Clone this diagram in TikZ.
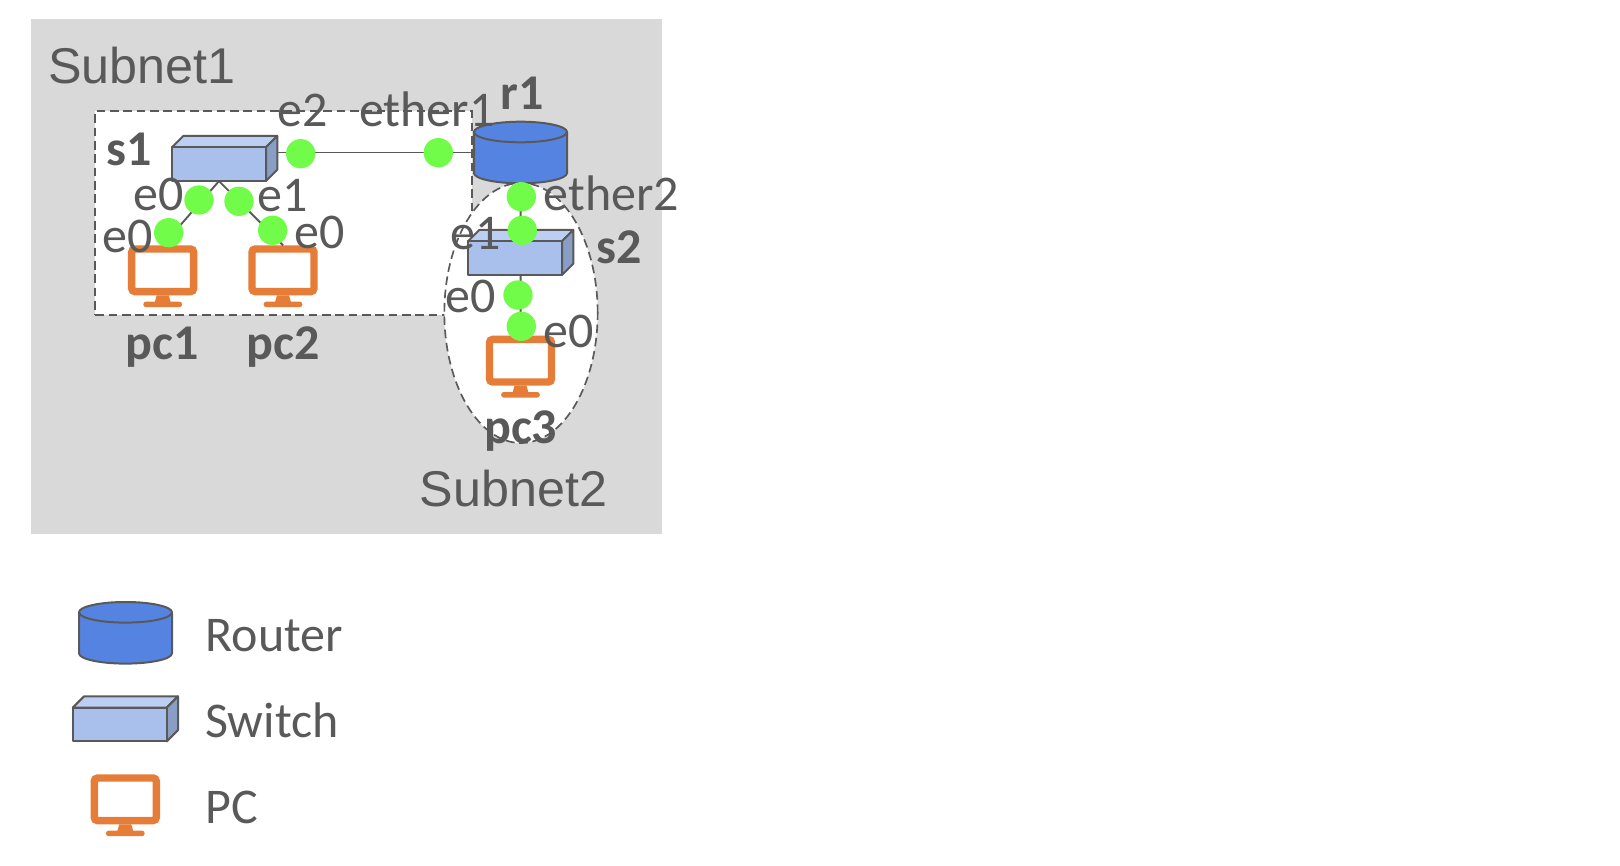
\documentclass[tikz,border=0pt]{standalone}
\usepackage{fontspec}
\usetikzlibrary{shapes.geometric}
\setmainfont{Carlito}
\newfontfamily\arialfont{Liberation Sans}
\definecolor{ink}{HTML}{595959}
\definecolor{panel}{HTML}{D9D9D9}
\definecolor{routerblue}{HTML}{5583E2}
\definecolor{swfront}{HTML}{A9C0EC}
\definecolor{swtop}{HTML}{BCCFF2}
\definecolor{swside}{HTML}{8A9DC4}
\definecolor{pcorange}{HTML}{E57C37}
\definecolor{dotgreen}{HTML}{72FC4A}
\tikzset{
  x=0.75pt,y=-0.75pt,
  outline/.style={draw=ink,line width=1.5pt,line join=round},
  link/.style={draw=ink,line width=1.4pt},
  zone/.style={draw=ink,line width=1.25pt,dash pattern=on 6.5pt off 3.5pt,fill=white},
  port/.style={circle,fill=dotgreen,inner sep=0pt,minimum size=22pt},
  tag/.style={anchor=base west,inner sep=0pt,text=ink,font=\fontsize{37.5}{45}\selectfont},
  devname/.style={anchor=base,inner sep=0pt,text=ink,font=\fontsize{37.5}{45}\selectfont\bfseries},
  devnamew/.style={devname,anchor=base west},
  legendtext/.style={anchor=base west,inner sep=0pt,text=ink,font=\fontsize{37.5}{45}\selectfont},
  subnet/.style={anchor=base west,inner sep=0pt,text=ink,font=\fontsize{37.7}{45}\arialfont\selectfont},
  box/.style={inner sep=0pt,outer sep=0pt,minimum width=#1*0.75pt},
}
% name, left of front, top of back face
\newcommand{\SwitchAt}[3]{%
  \path (#2,#3) ++(52.65,22.5) node[box=105.3,minimum height=33.75pt] (#1) {};
  \path (#2,#3) ++(47,28.2) node[box=94,minimum height=25.35pt] (#1f) {};
  \fill[swtop,outline] (#2,#3) ++(0,11.3) -- ++(11.3,-11.3) -- ++(94,0) -- ++(-11.3,11.3) -- cycle;
  \fill[swside,outline] (#2,#3) ++(94,11.3) -- ++(11.3,-11.3) -- ++(0,33.7) -- ++(-11.3,11.3) -- cycle;
  \fill[swfront,outline] (#2,#3) ++(0,11.3) rectangle ++(94,33.7);
}
% name, left, centre of the top ellipse
\newcommand{\RouterAt}[3]{%
  \path (#2,#3) ++(46.5,20.5) node[box=93,minimum height=45.75pt] (#1) {};
  \fill[routerblue,outline] (#2,#3) -- ++(0,41) arc[start angle=180,end angle=0,x radius=46.5,y radius=10.3] -- ++(0,-41)
     arc[start angle=360,end angle=180,x radius=46.5,y radius=10.3] -- cycle;
  \draw[outline] (#2,#3) arc[start angle=180,end angle=0,x radius=46.5,y radius=10.3];
}
% name, centre x, top
\newcommand{\PcAt}[3]{%
  \path (#2,#3) ++(0,31) node[box=69.4,minimum height=46.5pt] (#1) {};
  \draw[pcorange,line width=5.6pt,rounded corners=2.5pt] (#2,#3) ++(-31,3.7) rectangle ++(62,42.6);
  \fill[pcorange] (#2,#3) ++(-6,50) -- ++(12,0) -- ++(2,7) -- ++(-16,0) -- cycle;
  \fill[pcorange,rounded corners=1.8pt] (#2,#3) ++(-19.3,56.4) rectangle ++(38.6,5.4);
}
\begin{document}
\begin{tikzpicture}
\useasboundingbox (0,0) rectangle (1620,866);
\fill[panel] (30.7,19) rectangle (662,534);
\node[zone,rectangle,inner sep=0pt,minimum width=282.3pt,minimum height=153pt] (zone1) at (283.5,213) {};
\node[zone,ellipse,inner sep=0pt,minimum width=115pt,minimum height=195pt] (zone2) at (521,313) {};

\SwitchAt{s1}{172}{136}
\SwitchAt{s2}{468}{230}
\RouterAt{r1}{474}{132}
\PcAt{pc1}{162.7}{245.3}
\PcAt{pc2}{283}{245.3}
\PcAt{pc3}{520.5}{335.7}

\draw[link] (r1.west) -- (r1.west -| s1.east);
\draw[link] (s1f.south) -- (pc1.north);
\draw[link] (s1f.south) -- (pc2.north);
\draw[link] (r1.south) -- (s2.north);
\draw[link] (s2.south) -- (pc3.north);

\node[port] (ps1e2) at (300.7,153.7) {};
\node[port] (pr1e1) at (438.3,152.7) {};
\node[port] (ps1e0) at (199,200) {};
\node[port] (ps1e1) at (239,201.3) {};
\node[port] (ppc1e0) at (168.7,232.7) {};
\node[port] (ppc2e0) at (272.7,230.3) {};
\node[port] (pr1e2) at (521.3,196.7) {};
\node[port] (ps2e1) at (522.3,230.3) {};
\node[port] (ps2e0) at (518,295) {};
\node[port] (ppc3e0) at (521.3,326.3) {};

\node[subnet] (lsub1) at (48,84) {Subnet1};
\node[subnet] (lsub2) at (419.5,506.5) {Subnet2};
\node[tag] (le2) at (277,127) {e2};
\node[tag] (lether1) at (359,127) {ether1};
\node[tag] (lether2) at (543.5,211) {ether2};
\node[tag] (ls1e0) at (133,211) {e0};
\node[tag] (ls1e1) at (257,212) {e1};
\node[tag] (lpc1e0) at (102,252.5) {e0};
\node[tag] (lpc2e0) at (294.5,248) {e0};
\node[tag] (ls2e1) at (450.5,250) {e1};
\node[tag] (ls2e0) at (445,312.5) {e0};
\node[tag] (lpc3e0) at (543,347.5) {e0};
\node[devnamew] (ls1) at (106,166) {s1};
\node[devnamew] (ls2) at (596,263) {s2};
\node[devnamew] (lr1) at (500.5,109.5) {r1};
\node[devname] (lpc1) at (162.2,359) {pc1};
\node[devname] (lpc2) at (283,359) {pc2};
\node[devname] (lpc3) at (520.7,443.5) {pc3};

\RouterAt{legr}{79}{612.3}
\SwitchAt{legs}{72.7}{696.4}
\PcAt{legp}{125.3}{774.3}
\node[legendtext] (tr) at (205.5,651) {Router};
\node[legendtext] (ts) at (205,737) {Switch};
\node[legendtext] (tp) at (205.5,823) {PC};
\end{tikzpicture}
\end{document}
